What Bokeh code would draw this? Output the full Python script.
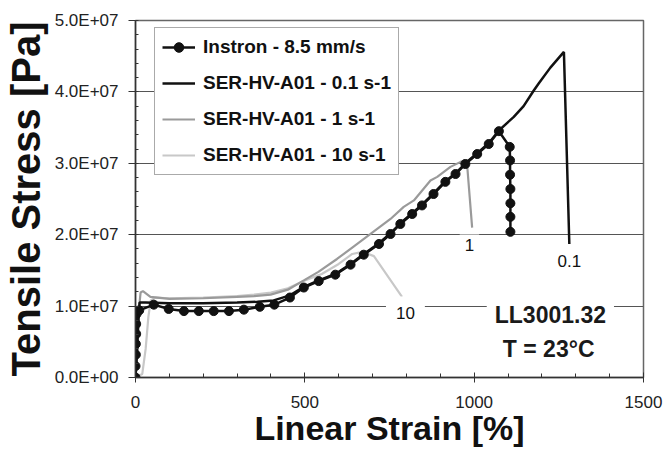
from bokeh.plotting import figure
from bokeh.models import Range1d, FixedTicker, Legend, LegendItem, Label
from bokeh.embed import file_html
from bokeh.resources import INLINE

# ---------------- data (stress in units of 1e6 Pa) ----------------
instron_strain = [0, 0, 1, 1, 2, 2, 3, 11, 54, 98, 143, 187, 231, 276, 320, 367, 410, 456,
                  497, 541, 590, 635, 674, 719, 753, 782, 817, 846, 880, 915, 945, 974,
                  1009, 1043, 1073, 1105, 1106, 1106, 1107, 1107, 1107, 1107]
instron_stress = [0, 1.6, 3.2, 4.7, 6.1, 7.5, 8.9, 9.4, 10.2, 9.6, 9.3, 9.3, 9.3, 9.3, 9.5, 9.9,
                  10.2, 11.2, 12.6, 13.5, 14.4, 15.8, 17.2, 18.7, 20.1, 21.5, 22.9, 24.1, 25.7,
                  27.4, 28.5, 29.9, 31.3, 32.7, 34.5, 32.3, 30.4, 28.4, 26.4, 24.4, 22.5, 20.4]

s01_strain = [0, 4, 8, 12, 30, 100, 200, 300, 360, 408, 456, 497, 541, 590, 635, 674, 719, 753,
              782, 817, 846, 880, 915, 945, 974, 1009, 1043, 1073, 1117, 1146, 1176, 1191, 1225,
              1265, 1281]
s01_stress = [0, 3.0, 7.5, 10.5, 10.5, 10.4, 10.4, 10.5, 10.6, 10.8, 11.5, 12.7, 13.6, 14.5, 15.9,
              17.3, 18.8, 20.2, 21.6, 23.0, 24.2, 25.8, 27.5, 28.6, 30.0, 31.4, 32.8, 34.6, 36.5,
              38.0, 40.2, 41.2, 43.4, 45.6, 18.7]

s1_strain = [0, 5, 10, 15, 22, 44, 100, 200, 300, 350, 399, 450, 497, 540, 595, 640, 694, 753,
             792, 822, 871, 891, 930, 960, 970, 979, 994]
s1_stress = [0, 4.0, 9.5, 11.9, 12.1, 11.3, 11.0, 11.1, 11.3, 11.4, 11.6, 12.3, 13.6, 14.8, 16.6,
             18.2, 20.1, 22.2, 23.9, 24.8, 27.6, 28.1, 29.5, 30.2, 30.4, 29.9, 21.0]

s10_strain = [0, 20, 30, 38, 45, 60, 100, 200, 300, 350, 400, 450, 500, 550, 600, 640, 670, 704, 787]
s10_stress = [0, 0.5, 4.0, 8.5, 10.8, 11.2, 11.1, 11.2, 11.4, 11.6, 11.9, 12.5, 13.6, 14.5, 15.9,
              17.3, 17.6, 17.0, 11.3]

series_names = ["Instron - 8.5 mm/s", "SER-HV-A01 - 0.1 s-1", "SER-HV-A01 - 1 s-1",
                "SER-HV-A01 - 10 s-1"]

x_ticks = [0, 500, 1000, 1500]
x_tick_labels = ["0", "500", "1000", "1500"]
x_minor = list(range(0, 1501, 100))
y_ticks = [0, 1e7, 2e7, 3e7, 4e7, 5e7]
y_tick_labels = ["0.0E+00", "1.0E+07", "2.0E+07", "3.0E+07", "4.0E+07", "5.0E+07"]
y_minor = [i * 2e6 for i in range(0, 26)]

x_title = "Linear Strain [%]"
y_title = "Tensile Stress [Pa]"

end_labels = ["1", "0.1", "10"]
end_label_x = [986, 1281, 797]
end_label_y = [18.5, 16.25, 9.1]

SCALE = 1e6
FONT = "Liberation Sans"

def pa(vals):
    return [v * SCALE for v in vals]

p = figure(width=663, height=450, output_backend="svg", toolbar_location=None,
           x_range=Range1d(0, 1500), y_range=Range1d(0, 5e7),
           min_border_left=135, min_border_right=20, min_border_top=20, min_border_bottom=73)
p.background_fill_color = "white"
p.border_fill_color = "white"
p.outline_line_color = "#666666"
p.outline_line_width = 1.5

# grid
p.xgrid.visible = False
p.ygrid.grid_line_color = "#555555"
p.ygrid.grid_line_width = 1.2

# axes
p.xaxis.ticker = FixedTicker(ticks=x_ticks, minor_ticks=x_minor)
p.xaxis.major_label_overrides = {t: l for t, l in zip(x_ticks, x_tick_labels)}
p.yaxis.ticker = FixedTicker(ticks=y_ticks, minor_ticks=y_minor)
p.yaxis.major_label_overrides = {t: l for t, l in zip(y_ticks, y_tick_labels)}

for ax in (p.xaxis[0], p.yaxis[0]):
    ax.axis_line_color = "#333333"
    ax.axis_line_width = 1.5
    ax.major_tick_line_color = "#333333"
    ax.minor_tick_line_color = "#333333"
    ax.major_label_text_font = FONT
    ax.major_label_text_font_size = "17px"
    ax.major_label_text_color = "#222222"
    ax.axis_label_text_font = FONT
    ax.axis_label_text_font_style = "bold"
    ax.axis_label_text_color = "#111111"

p.xaxis.major_tick_in = 5
p.xaxis.major_tick_out = 5
p.xaxis.minor_tick_in = 4
p.xaxis.minor_tick_out = 0
p.xaxis.major_label_standoff = 13
p.xaxis.axis_label = x_title
p.xaxis.axis_label_text_font_size = "34px"
p.xaxis.axis_label_standoff = -2

p.yaxis.major_tick_in = 0
p.yaxis.major_tick_out = 7
p.yaxis.minor_tick_in = 3
p.yaxis.minor_tick_out = 0
p.yaxis.major_label_standoff = 10
p.yaxis.axis_label = y_title
p.yaxis.axis_label_text_font_size = "40px"
p.yaxis.axis_label_standoff = 4

# curves
r10 = p.line(s10_strain, pa(s10_stress), line_color="#c8c8c8", line_width=2.2)
r1 = p.line(s1_strain, pa(s1_stress), line_color="#9a9a9a", line_width=2.2)
r01 = p.line(s01_strain, pa(s01_stress), line_color="#111111", line_width=2.5)
ri_line = p.line(instron_strain, pa(instron_stress), line_color="#111111", line_width=2.5)
ri_pts = p.scatter(instron_strain, pa(instron_stress), size=9, marker="circle",
                   fill_color="#111111", line_color="#111111")

legend = Legend(items=[
    LegendItem(label=series_names[0], renderers=[ri_line, ri_pts]),
    LegendItem(label=series_names[1], renderers=[r01]),
    LegendItem(label=series_names[2], renderers=[r1]),
    LegendItem(label=series_names[3], renderers=[r10]),
], location=(19, 202))
legend.label_text_font = FONT
legend.label_text_font_style = "bold"
legend.label_text_font_size = "19px"
legend.label_text_color = "#111111"
legend.glyph_width = 33
legend.glyph_height = 24
legend.label_height = 24
legend.label_standoff = 8
legend.spacing = 12
legend.padding = 7
legend.margin = 0
legend.border_line_color = "#555555"
legend.border_line_width = 1.5
legend.background_fill_color = "white"
legend.background_fill_alpha = 1.0
p.add_layout(legend)

# end-of-curve labels
pads = [5, 3, 10]
for txt, lx, ly, pd in zip(end_labels, end_label_x, end_label_y, pads):
    p.add_layout(Label(x=lx, y=ly * SCALE, text=txt, text_align="center", text_baseline="middle",
                       text_font=FONT, text_font_size="17px", text_color="#111111",
                       background_fill_color="white", background_fill_alpha=1.0, padding=pd))

p.add_layout(Label(x=1225, y=8.82 * SCALE, text="LL3001.32", text_align="center",
                   text_baseline="middle", text_font=FONT, text_font_size="23px",
                   text_font_style="bold", text_color="#1a1a1a", background_fill_color="white",
                   background_fill_alpha=1.0, padding=8))
p.add_layout(Label(x=1220, y=4.06 * SCALE, text="T = 23°C", text_align="center",
                   text_baseline="middle", text_font=FONT, text_font_size="23px",
                   text_font_style="bold", text_color="#1a1a1a"))

open("out.html", "w").write(file_html(p, INLINE))
